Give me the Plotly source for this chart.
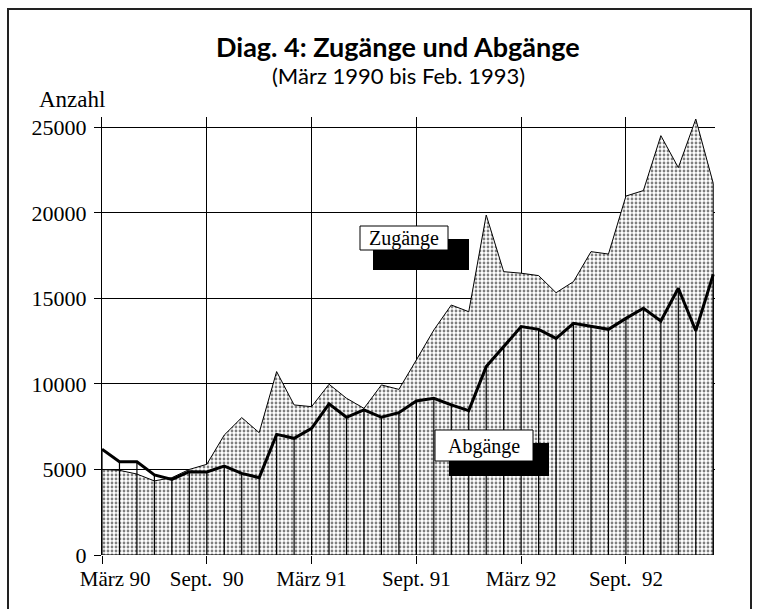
import plotly.graph_objects as go
import pandas as pd

# ---------------- data ----------------
monate = [p.strftime("%Y-%m") for p in pd.period_range("1990-03", "1993-02", freq="M")]

zugaenge = [5000, 4950, 4730, 4330, 4520, 5000, 5300, 7010, 8030, 7150, 10720, 8770,
            8670, 9980, 9160, 8570, 9940, 9680, 11400, 13150, 14610, 14220, 19870, 16560,
            16470, 16330, 15330, 15980, 17730, 17590, 20980, 21300, 24510, 22640, 25480, 21720]

abgaenge = [6180, 5450, 5450, 4680, 4420, 4870, 4850, 5200, 4770, 4520, 7050, 6820,
            7400, 8830, 8050, 8480, 8050, 8320, 9000, 9160, 8770, 8440, 11010, 12180,
            13350, 13190, 12660, 13540, 13350, 13190, 13830, 14420, 13680, 15590, 13110, 16400]

tick_monate = ["1990-03", "1990-09", "1991-03", "1991-09", "1992-03", "1992-09"]
tick_labels = ["\u00a0\u00a0\u00a0\u00a0\u00a0März 90", "Sept.\u00a0 90", "März 91",
               "Sept. 91", "März 92", "Sept.\u00a0 92"]

y_ticks = [0, 5000, 10000, 15000, 20000, 25000]
y_tick_labels = ["0", "5000", "10000", "15000", "20000", "25000"]

titel = "Diag. 4: Zugänge und Abgänge"
untertitel = "(März 1990 bis Feb. 1993)"
y_titel = "Anzahl"
serien_namen = ["Zugänge", "Abgänge"]

# ---------------- figure ----------------
fig = go.Figure()

# Zugänge: dotted area (closed polygon down to the baseline)
fig.add_trace(go.Scatter(
    x=monate + [monate[-1], monate[0]],
    y=zugaenge + [0, 0],
    mode="lines",
    fill="toself",
    fillcolor="white",
    fillpattern=dict(shape=".", fgcolor="black", bgcolor="white", size=4, solidity=0.38),
    line=dict(color="black", width=1),
    name=serien_namen[0],
    hoverinfo="skip",
))

# Abgänge: vertical hatch line under each month
vx, vy = [], []
for m, a in zip(monate, abgaenge):
    vx += [m, m, None]
    vy += [0, a, None]
fig.add_trace(go.Scatter(
    x=vx, y=vy, mode="lines",
    line=dict(color="black", width=1.2),
    hoverinfo="skip", showlegend=False,
))

# Abgänge line
fig.add_trace(go.Scatter(
    x=monate, y=abgaenge, mode="lines",
    line=dict(color="black", width=3),
    name=serien_namen[1],
))

serif = "Liberation Serif, Times New Roman, serif"
sans = "Lato, Noto Sans, sans-serif"

# pixel helpers for layout decoration (plot area: x 102..715, y 117..555)
def px(xp):
    return (xp - 102) / 613.0

def py(yp):
    return (555 - yp) / 438.0

shapes = [
    # outer frame
    dict(type="rect", xref="paper", yref="paper", x0=px(8), x1=px(751), y0=py(640), y1=py(9),
         line=dict(color="#222", width=2), fillcolor="rgba(0,0,0,0)", layer="above"),
    # Zugänge label box
    dict(type="rect", xref="paper", yref="paper", x0=px(373), x1=px(469), y0=py(270), y1=py(239),
         line=dict(width=0), fillcolor="black"),
    dict(type="rect", xref="paper", yref="paper", x0=px(360), x1=px(448), y0=py(250), y1=py(226),
         line=dict(color="black", width=1), fillcolor="white"),
    # Abgänge label box
    dict(type="rect", xref="paper", yref="paper", x0=px(449), x1=px(549), y0=py(476), y1=py(443),
         line=dict(width=0), fillcolor="black"),
    dict(type="rect", xref="paper", yref="paper", x0=px(435), x1=px(533), y0=py(461), y1=py(430),
         line=dict(color="black", width=1), fillcolor="white"),
]

annotations = [
    dict(text="<b>" + titel + "</b>", xref="paper", yref="paper", x=px(398), y=py(46),
         showarrow=False, xanchor="center", yanchor="middle",
         font=dict(family=sans, size=27, color="black")),
    dict(text=untertitel, xref="paper", yref="paper", x=px(398), y=py(76),
         showarrow=False, xanchor="center", yanchor="middle",
         font=dict(family=sans, size=22, color="black")),
    dict(text=y_titel, xref="paper", yref="paper", x=px(37), y=py(99),
         showarrow=False, xanchor="left", yanchor="middle",
         font=dict(family=serif, size=23, color="black")),
    dict(text=serien_namen[0], xref="paper", yref="paper", x=px(404), y=py(238),
         showarrow=False, xanchor="center", yanchor="middle",
         font=dict(family=serif, size=20, color="black")),
    dict(text=serien_namen[1], xref="paper", yref="paper", x=px(484), y=py(446),
         showarrow=False, xanchor="center", yanchor="middle",
         font=dict(family=serif, size=20, color="black")),
]

fig.update_layout(
    width=757, height=609,
    margin=dict(l=102, r=42, t=117, b=54),
    paper_bgcolor="white", plot_bgcolor="white",
    showlegend=False,
    shapes=shapes,
    annotations=annotations,
    xaxis=dict(
        type="category",
        categoryorder="array", categoryarray=monate,
        range=[0, 35.1],
        tickmode="array", tickvals=tick_monate, ticktext=tick_labels,
        showgrid=True, gridcolor="black", gridwidth=1,
        ticks="outside", ticklen=8, tickcolor="black", tickwidth=1,
        showline=False, zeroline=False,
        tickfont=dict(family=serif, size=21, color="black"),
        ticklabelstandoff=-3,
    ),
    yaxis=dict(
        range=[0, 25600],
        tickmode="array", tickvals=y_ticks, ticktext=y_tick_labels,
        showgrid=True, gridcolor="black", gridwidth=1,
        ticks="outside", ticklen=7, tickcolor="black", tickwidth=1,
        showline=True, linecolor="black", linewidth=1,
        zeroline=False,
        tickfont=dict(family=serif, size=22, color="black"),
        ticklabelstandoff=3,
    ),
)

fig.write_html("out.html",
               config={"displayModeBar": False},
               post_script="document.body.style.margin='0';document.body.style.overflow='hidden';")
